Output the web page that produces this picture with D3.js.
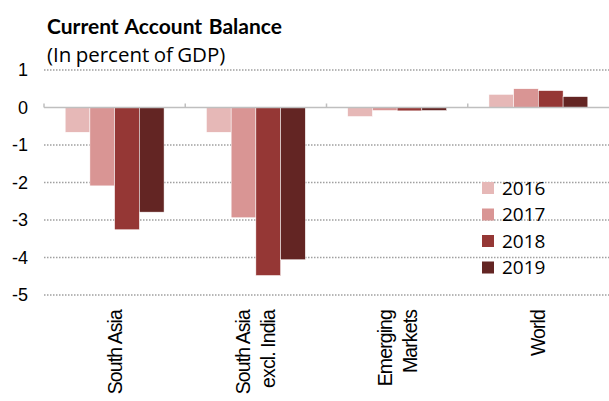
<!DOCTYPE html>
<html>
<head>
<meta charset="utf-8">
<script src="https://cdn.jsdelivr.net/npm/d3@7"></script>
<style>
  body { margin: 0; background: #fff; }
  svg { display: block; }
</style>
</head>
<body>
<div id="chart"></div>
<script>
var categories = [["South Asia"], ["South Asia", "excl. India"], ["Emerging", "Markets"], ["World"]]
var years = ["2016", "2017", "2018", "2019"]
var colors = ["#e6b8b7", "#d99594", "#953735", "#632523"]

// one array per year, in category order
var v2016 = [-0.66, -0.66, -0.24, 0.35]
var v2017 = [-2.09, -2.94, -0.08, 0.50]
var v2018 = [-3.26, -4.48, -0.09, 0.45]
var v2019 = [-2.79, -4.06, -0.08, 0.29]
var series = [v2016, v2017, v2018, v2019]

var yTicks = [1, 0, -1, -2, -3, -4, -5]

var width = 609, height = 401
var mLeft = 44, mRight = 609, mTop = 70, mBottom = 295

var svg = d3.select('#chart').append('svg')
  .attr('width', width).attr('height', height)

var x0 = d3.scaleBand().domain(d3.range(categories.length)).range([mLeft, mRight])
var bw = x0.bandwidth()
var x1 = d3.scaleBand().domain(years).range([bw * 0.15, bw * 0.85])
var y = d3.scaleLinear().domain([-5, 1]).range([mBottom, mTop])

// title
svg.append('text')
  .attr('x', 47).attr('y', 34)
  .style('font', 'bold 21px Lato, sans-serif')
  .style('word-spacing', '1.5px')
  .text('Current Account Balance')
svg.append('text')
  .attr('x', 47).attr('y', 62)
  .style('font', '20.5px "Open Sans", sans-serif')
  .style('word-spacing', '-1px')
  .text('(In percent of GDP)')

// dotted gridlines
svg.append('g').selectAll('line')
  .data(yTicks.filter(d => d != 0))
  .join('line')
  .attr('x1', mLeft).attr('x2', mRight)
  .attr('y1', d => y(d)).attr('y2', d => y(d))
  .attr('stroke', '#a0a0a0')
  .attr('stroke-width', 1.5)
  .attr('stroke-dasharray', '1.5,1.5')

// y tick labels
svg.append('g').selectAll('text')
  .data(yTicks)
  .join('text')
  .attr('x', 28).attr('y', d => y(d))
  .attr('dy', '0.36em')
  .attr('text-anchor', 'end')
  .style('font', '18px "Liberation Sans", Arial, sans-serif')
  .text(d => d)

// bars
var groups = svg.append('g').selectAll('g')
  .data(series)
  .join('g')
  .attr('fill', (d, i) => colors[i])

groups.selectAll('rect')
  .data((vals, i) => vals.map((v, j) => ({v: v, cat: j, year: years[i]})))
  .join('rect')
  .attr('x', d => x0(d.cat) + x1(d.year))
  .attr('width', x1.bandwidth())
  .attr('y', d => y(Math.max(0, d.v)))
  .attr('height', d => Math.abs(y(d.v) - y(0)))
  .attr('stroke', '#fff')
  .attr('stroke-width', 0.5)

// zero axis with category tick marks
var axis = svg.append('g').attr('stroke', '#bfbfbf').attr('stroke-width', 1.5)
axis.append('line')
  .attr('x1', mLeft).attr('x2', mRight)
  .attr('y1', y(0)).attr('y2', y(0))
axis.selectAll('line.tick')
  .data(d3.range(categories.length))
  .join('line')
  .attr('class', 'tick')
  .attr('x1', d => x0(d)).attr('x2', d => x0(d))
  .attr('y1', y(0)).attr('y2', y(0) - 4)

// category labels, rotated
var catSel = svg.append('g').selectAll('text')
  .data(categories)
  .join('text')
  .attr('transform', (d, i) => 'translate(' + (x0(i) + bw / 2) + ',310) rotate(-90)')
  .attr('text-anchor', 'end')
  .style('font', '19.5px "Liberation Sans", Arial, sans-serif')
  .style('letter-spacing', '-0.9px')

catSel.selectAll('tspan')
  .data(d => d.map((t, k) => ({t: t, k: k, n: d.length})))
  .join('tspan')
  .attr('x', 0)
  .attr('y', d => (d.k - (d.n - 1) / 2) * 25 + 7)
  .text(d => d.t)

// legend
var lg = svg.append('g').selectAll('g')
  .data(years)
  .join('g')
  .attr('transform', (d, i) => 'translate(482,' + (188 + i * 26.5) + ')')
lg.append('rect')
  .attr('x', 0).attr('y', -6)
  .attr('width', 12).attr('height', 12)
  .attr('fill', (d, i) => colors[i])
lg.append('text')
  .attr('x', 20).attr('dy', '0.36em')
  .style('font', '19px "Open Sans", sans-serif')
  .text(d => d)
</script>
</body>
</html>
